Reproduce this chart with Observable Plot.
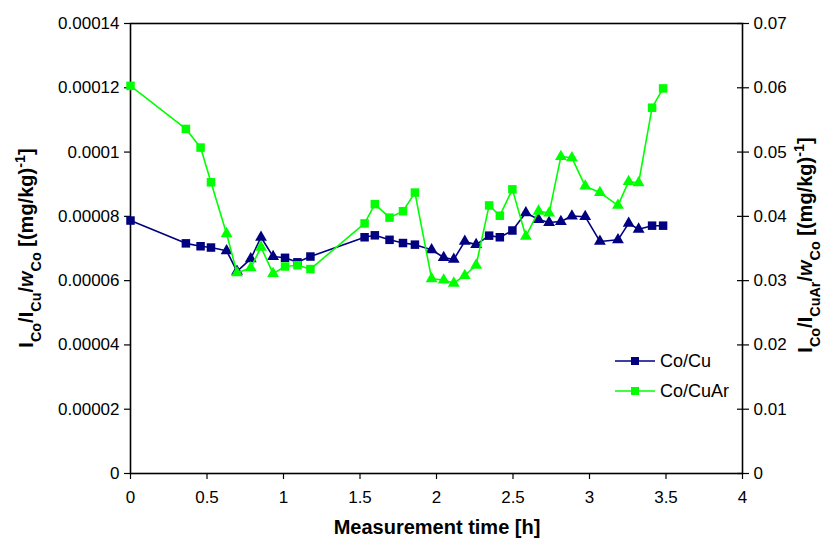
<!DOCTYPE html>
<html>
<head>
<meta charset="utf-8">
<script src="https://cdn.jsdelivr.net/npm/d3@7"></script>
<script src="https://cdn.jsdelivr.net/npm/@observablehq/plot@0.6"></script>
<style>
  html, body { margin: 0; padding: 0; background: #fff; }
</style>
</head>
<body>
<div id="chart"></div>
<script>
// Measurement times [h]
const times = [0, 0.362, 0.458, 0.526, 0.628, 0.696, 0.786, 0.853, 0.932, 1.010, 1.091, 1.176,
  1.530, 1.597, 1.693, 1.781, 1.859, 1.968, 2.047, 2.113, 2.185, 2.259, 2.344, 2.414, 2.496,
  2.584, 2.667, 2.736, 2.813, 2.885, 2.972, 3.068, 3.186, 3.256, 3.321, 3.409, 3.481];
// marker shape per point (S = square, T = triangle)
const markers = ["S","S","S","S","T","T","T","T","T","S","S","S","S","S","S","S","S",
  "T","T","T","T","T","S","S","S","T","T","T","T","T","T","T","T","T","T","S","S"];
// Co/Cu (left axis)
const coCu = [0.0000787, 0.0000716, 0.0000707, 0.0000703, 0.0000693, 0.0000629, 0.0000668,
  0.0000735, 0.0000675, 0.0000671, 0.0000657, 0.0000675, 0.0000735, 0.0000741, 0.0000727,
  0.0000717, 0.0000712, 0.0000696, 0.0000672, 0.0000666, 0.0000722, 0.0000712, 0.0000740,
  0.0000735, 0.0000756, 0.0000811, 0.0000790, 0.0000781, 0.0000784, 0.0000801, 0.0000799,
  0.0000722, 0.0000727, 0.0000778, 0.0000760, 0.0000771, 0.0000771];
// Co/CuAr (right axis)
const coCuAr = [0.0603, 0.0536, 0.0507, 0.0453, 0.0373, 0.0312, 0.0320, 0.0352, 0.0311, 0.0322,
  0.0324, 0.0318, 0.0389, 0.0419, 0.0398, 0.0408, 0.0437, 0.0303, 0.0301, 0.0296, 0.0308,
  0.0324, 0.0417, 0.0401, 0.0442, 0.0369, 0.0408, 0.0405, 0.0493, 0.0491, 0.0447, 0.0437,
  0.0417, 0.0454, 0.0452, 0.0569, 0.0599];
const seriesNames = ["Co/Cu", "Co/CuAr"];
const seriesColors = ["#000080", "#00ff00"];
const xTicks = [0, 0.5, 1, 1.5, 2, 2.5, 3, 3.5, 4];
const xTickLabels = ["0", "0.5", "1", "1.5", "2", "2.5", "3", "3.5", "4"];
const leftTicks = [0, 0.00002, 0.00004, 0.00006, 0.00008, 0.0001, 0.00012, 0.00014];
const leftTickLabels = ["0", "0.00002", "0.00004", "0.00006", "0.00008", "0.0001", "0.00012", "0.00014"];
const rightTicks = [0, 0.01, 0.02, 0.03, 0.04, 0.05, 0.06, 0.07];
const rightTickLabels = ["0", "0.01", "0.02", "0.03", "0.04", "0.05", "0.06", "0.07"];
const rightToLeft = 0.00014 / 0.07; // right axis maps onto left axis

const dataCu = times.map((t, i) => ({t, v: coCu[i], m: markers[i]}));
const dataAr = times.map((t, i) => ({t, v: coCuAr[i] * rightToLeft, m: markers[i]}));

const FONT = "'Liberation Sans', Arial, Helvetica, sans-serif";

const chart = Plot.plot({
  width: 825,
  height: 538,
  marginLeft: 130,
  marginRight: 83,
  marginTop: 23,
  marginBottom: 65,
  style: {fontFamily: FONT, fontSize: "17px", background: "#fff", color: "#000"},
  x: {domain: [0, 4]},
  y: {domain: [0, 0.00014]},
  marks: [
    Plot.axisX({ticks: xTicks, tickFormat: (d, i) => xTickLabels[xTicks.indexOf(d)], tickSize: 6, tickPadding: 11, label: null, strokeWidth: 1.2}),
    Plot.axisY({anchor: "left", ticks: leftTicks, tickFormat: d => leftTickLabels[leftTicks.indexOf(d)], tickSize: 6, tickPadding: 5, label: null, strokeWidth: 1.2}),
    Plot.axisY({anchor: "right", ticks: rightTicks.map(v => v * rightToLeft),
      tickFormat: d => rightTickLabels[rightTicks.findIndex(v => Math.abs(v * rightToLeft - d) < 1e-12)],
      tickSize: 6, tickPadding: 5, label: null, strokeWidth: 1.2}),
    Plot.axisY({anchor: "right", ticks: rightTicks.map(v => v * rightToLeft), tickFormat: () => "", tickSize: -6, label: null, strokeWidth: 1.2}),
    Plot.frame({stroke: "#000", strokeWidth: 1.6}),
    Plot.line(dataCu, {x: "t", y: "v", stroke: seriesColors[0], strokeWidth: 1.6}),
    Plot.dot(dataCu.filter(d => d.m === "S"), {x: "t", y: "v", symbol: "square", r: 4.8, fill: seriesColors[0], stroke: "none"}),
    Plot.dot(dataCu.filter(d => d.m === "T"), {x: "t", y: "v", symbol: "triangle", r: 4.4, fill: seriesColors[0], stroke: "none"}),
    Plot.line(dataAr, {x: "t", y: "v", stroke: seriesColors[1], strokeWidth: 1.6}),
    Plot.dot(dataAr.filter(d => d.m === "S"), {x: "t", y: "v", symbol: "square", r: 4.8, fill: seriesColors[1], stroke: "none"}),
    Plot.dot(dataAr.filter(d => d.m === "T"), {x: "t", y: "v", symbol: "triangle", r: 4.4, fill: seriesColors[1], stroke: "none"})
  ]
});
document.getElementById("chart").appendChild(chart);

// Titles and legend (rich text with subscripts)
const svg = d3.select(chart);
function richText(x, y, rotate, parts, size) {
  const t = svg.append("text")
    .attr("transform", `translate(${x},${y})` + (rotate ? " rotate(-90)" : ""))
    .attr("text-anchor", "middle")
    .attr("font-family", FONT)
    .attr("font-weight", "bold")
    .attr("font-size", size)
    .attr("fill", "#000");
  parts.forEach(([s, k]) => {
    const sp = t.append("tspan").text(s);
    if (k === "sub") sp.attr("baseline-shift", "sub").attr("font-size", size * 0.72);
    if (k === "sup") sp.attr("baseline-shift", "super").attr("font-size", size * 0.72);
    if (k === "i") sp.attr("font-style", "italic");
  });
  return t;
}
richText(437, 534, false, [["Measurement time [h]", "n"]], 20);
richText(33, 248, true, [["I", "n"], ["Co", "sub"], ["/I", "n"], ["Cu", "sub"], ["/", "n"], ["w", "i"], ["Co", "sub"], [" [(mg/kg)", "n"], ["-1", "sup"], ["]", "n"]], 20);
richText(812, 245, true, [["I", "n"], ["Co", "sub"], ["/I", "n"], ["CuAr", "sub"], ["/", "n"], ["w", "i"], ["Co", "sub"], [" [(mg/kg)", "n"], ["-1", "sup"], ["]", "n"]], 20);

const legend = svg.append("g");
seriesNames.forEach((name, i) => {
  const y = 361 + i * 30;
  legend.append("line").attr("x1", 615).attr("x2", 655).attr("y1", y).attr("y2", y)
    .attr("stroke", seriesColors[i]).attr("stroke-width", 1.6);
  legend.append("rect").attr("x", 631).attr("y", y - 4).attr("width", 8).attr("height", 8)
    .attr("fill", seriesColors[i]);
  legend.append("text").attr("x", 660).attr("y", y).attr("dy", "0.35em")
    .attr("text-anchor", "start")
    .attr("font-family", FONT).attr("font-size", 18).attr("fill", "#000").text(name);
});
</script>
</body>
</html>
